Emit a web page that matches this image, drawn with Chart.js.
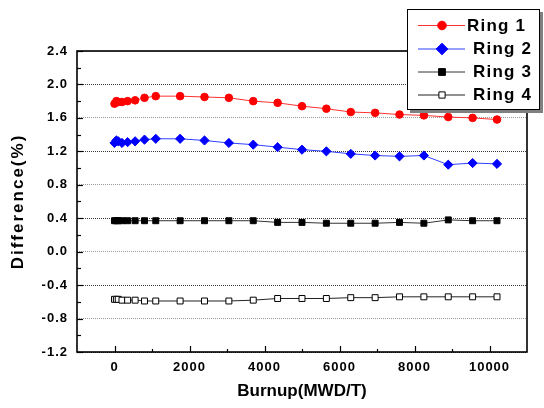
<!DOCTYPE html>
<html>
<head>
<meta charset="utf-8">
<script src="https://cdn.jsdelivr.net/npm/chart.js@4/dist/chart.umd.min.js"></script>
<style>
  html, body { margin: 0; padding: 0; background: #ffffff; }
  #wrap { width: 544px; height: 408px; }
</style>
</head>
<body>
<div id="wrap"><canvas id="c" width="544" height="408"></canvas></div>
<script>
// ---- data ----
const burnup = [0, 50, 100, 200, 350, 550, 800, 1100, 1750, 2400, 3050, 3700, 4350, 5000, 5650, 6300, 6950, 7600, 8250, 8900, 9550, 10200];
const ring1 = [1.77, 1.80, 1.79, 1.79, 1.80, 1.81, 1.84, 1.86, 1.86, 1.85, 1.84, 1.80, 1.78, 1.74, 1.71, 1.67, 1.66, 1.64, 1.63, 1.61, 1.60, 1.58];
const ring2 = [1.30, 1.33, 1.32, 1.30, 1.31, 1.32, 1.34, 1.35, 1.35, 1.33, 1.30, 1.28, 1.25, 1.22, 1.20, 1.17, 1.15, 1.14, 1.15, 1.04, 1.06, 1.05];
const ring3 = [0.37, 0.37, 0.37, 0.37, 0.37, 0.37, 0.37, 0.37, 0.37, 0.37, 0.37, 0.37, 0.35, 0.35, 0.34, 0.34, 0.34, 0.35, 0.34, 0.38, 0.37, 0.37];
const ring4 = [-0.57, -0.57, -0.57, -0.58, -0.58, -0.58, -0.59, -0.59, -0.59, -0.59, -0.59, -0.58, -0.56, -0.56, -0.56, -0.55, -0.55, -0.54, -0.54, -0.54, -0.54, -0.54];
const seriesNames = ['Ring 1', 'Ring 2', 'Ring 3', 'Ring 4'];
const xTitle = 'Burnup(MWD/T)';
const yTitle = 'Difference(%)';
const xMin = -1000, xMax = 11000, xMinorStep = 1000, xMajorStep = 2000;
const yMin = -1.2, yMax = 2.4, yStep = 0.4;

const FONT = '"Liberation Sans", Arial, sans-serif';

function pts(ys) { return burnup.map((x, i) => ({ x: x, y: ys[i] })); }

const styles = [
  { line: '#ff3030', fill: '#ff0000', border: '#ff0000', shape: 'circle', r: 3.8, lr: 4.3 },
  { line: '#3040ff', fill: '#0000ff', border: '#0000ff', shape: 'rectRot', r: 4.6, lr: 5.8 },
  { line: '#333333', fill: '#000000', border: '#000000', shape: 'rect', r: 4.2, lr: 4.8 },
  { line: '#222222', fill: '#ffffff', border: '#000000', shape: 'rect', r: 4.2, lr: 4.4 }
];
const allSeries = [ring1, ring2, ring3, ring4];

const datasets = allSeries.map((s, i) => ({
  label: seriesNames[i],
  data: pts(s),
  borderColor: styles[i].line,
  borderWidth: 1,
  backgroundColor: styles[i].fill,
  pointBackgroundColor: styles[i].fill,
  pointBorderColor: styles[i].border,
  pointBorderWidth: 1,
  pointStyle: styles[i].shape,
  pointRadius: styles[i].r,
  pointHoverRadius: styles[i].r,
  tension: 0,
  fill: false
}));

const decor = {
  id: 'decor',
  beforeDraw(chart) {
    chart.ctx.letterSpacing = '1px';
  },
  afterDatasetsDraw(chart) {
    const ctx = chart.ctx;
    const a = chart.chartArea;
    const xs = chart.scales.x, ys = chart.scales.y;
    ctx.save();
    ctx.strokeStyle = '#000';
    ctx.lineWidth = 1.2;
    for (let v = 0; v <= 10000; v += xMinorStep) {
      const px = Math.round(xs.getPixelForValue(v)) + 0.5;
      const len = (v % xMajorStep === 0) ? 6 : 3;
      ctx.beginPath(); ctx.moveTo(px, a.bottom); ctx.lineTo(px, a.bottom - len); ctx.stroke();
    }
    for (let k = 0; k <= Math.round((yMax - yMin) / (yStep / 2)); k++) {
      const v = yMin + k * yStep / 2;
      const py = Math.round(ys.getPixelForValue(v)) + 0.5;
      const len = (k % 2 === 0) ? 6 : 4;
      ctx.beginPath(); ctx.moveTo(a.left, py); ctx.lineTo(a.left + len, py); ctx.stroke();
    }
    ctx.lineWidth = 1.6;
    ctx.strokeRect(a.left, a.top, a.right - a.left, a.bottom - a.top);
    ctx.restore();
  },
  afterDraw(chart) {
    const ctx = chart.ctx;
    const a = chart.chartArea;
    ctx.save();
    ctx.fillStyle = '#000';
    ctx.font = 'bold 17px ' + FONT;
    ctx.textAlign = 'center';
    ctx.textBaseline = 'middle';
    ctx.letterSpacing = '0px';
    ctx.fillText(xTitle, (a.left + a.right) / 2, 391);
    ctx.save();
    ctx.translate(18, (a.top + a.bottom) / 2);
    ctx.rotate(-Math.PI / 2);
    ctx.letterSpacing = '2px';
    ctx.fillText(yTitle, 0, 0);
    ctx.restore();

    // legend box with shadow
    const bx = 407, by = 9, bw = 133, bh = 101;
    ctx.fillStyle = '#808080';
    ctx.fillRect(bx + 3, by + 3, bw, bh);
    ctx.fillStyle = '#ffffff';
    ctx.fillRect(bx, by, bw, bh);
    ctx.strokeStyle = '#000';
    ctx.lineWidth = 1;
    ctx.strokeRect(bx + 0.5, by + 0.5, bw - 1, bh - 1);

    const rows = [25, 48.5, 71.5, 94.5];
    const textX = [467, 473, 473, 473];
    ctx.font = 'bold 17px ' + FONT;
    ctx.letterSpacing = '1.2px';
    ctx.textAlign = 'left';
    ctx.textBaseline = 'middle';
    chart.data.datasets.forEach((ds, i) => {
      const y = rows[i];
      ctx.strokeStyle = ds.borderColor;
      ctx.lineWidth = 1;
      ctx.beginPath(); ctx.moveTo(418, y + 0.5); ctx.lineTo(465, y + 0.5); ctx.stroke();
      ctx.fillStyle = ds.pointBackgroundColor;
      ctx.strokeStyle = ds.pointBorderColor;
      Chart.helpers.drawPoint(ctx, { pointStyle: ds.pointStyle, rotation: 0, radius: styles[i].lr, borderWidth: 1 }, 442, y + 0.5);
      ctx.fillStyle = '#000';
      ctx.fillText(ds.label, textX[i], y + 1);
    });
    ctx.restore();
  }
};

new Chart(document.getElementById('c'), {
  type: 'line',
  data: { datasets: datasets },
  options: {
    responsive: false,
    animation: false,
    events: [],
    layout: { padding: { left: 0, top: 51, right: 17, bottom: 0 } },
    plugins: { legend: { display: false }, tooltip: { enabled: false } },
    scales: {
      x: {
        type: 'linear',
        min: xMin, max: xMax,
        afterFit(scale) { scale.height = 56; },
        grid: { display: false, drawTicks: false },
        border: { display: false },
        ticks: {
          stepSize: xMinorStep,
          autoSkip: false,
          maxRotation: 0,
          padding: 8,
          color: '#000',
          font: { family: FONT, size: 13, weight: 'bold' },
          callback: (v) => (v >= 0 && v <= 10000 && v % xMajorStep === 0) ? String(v) : ''
        }
      },
      y: {
        type: 'linear',
        min: yMin, max: yMax,
        afterFit(scale) { scale.width = 77; },
        grid: {
          drawTicks: false,
          lineWidth: 1,
          color: (c) => {
            const v = Math.round(c.tick.value * 10);
            return (Math.abs(v - 20) % 8 === 0) ? '#3a3a3a' : '#9a9a9a';
          }
        },
        border: { display: false, dash: [1, 1] },
        ticks: {
          stepSize: yStep,
          padding: 9,
          color: '#000',
          font: { family: FONT, size: 13, weight: 'bold' },
          callback: (v) => Number(v).toFixed(1)
        }
      }
    }
  },
  plugins: [decor]
});
</script>
</body>
</html>
